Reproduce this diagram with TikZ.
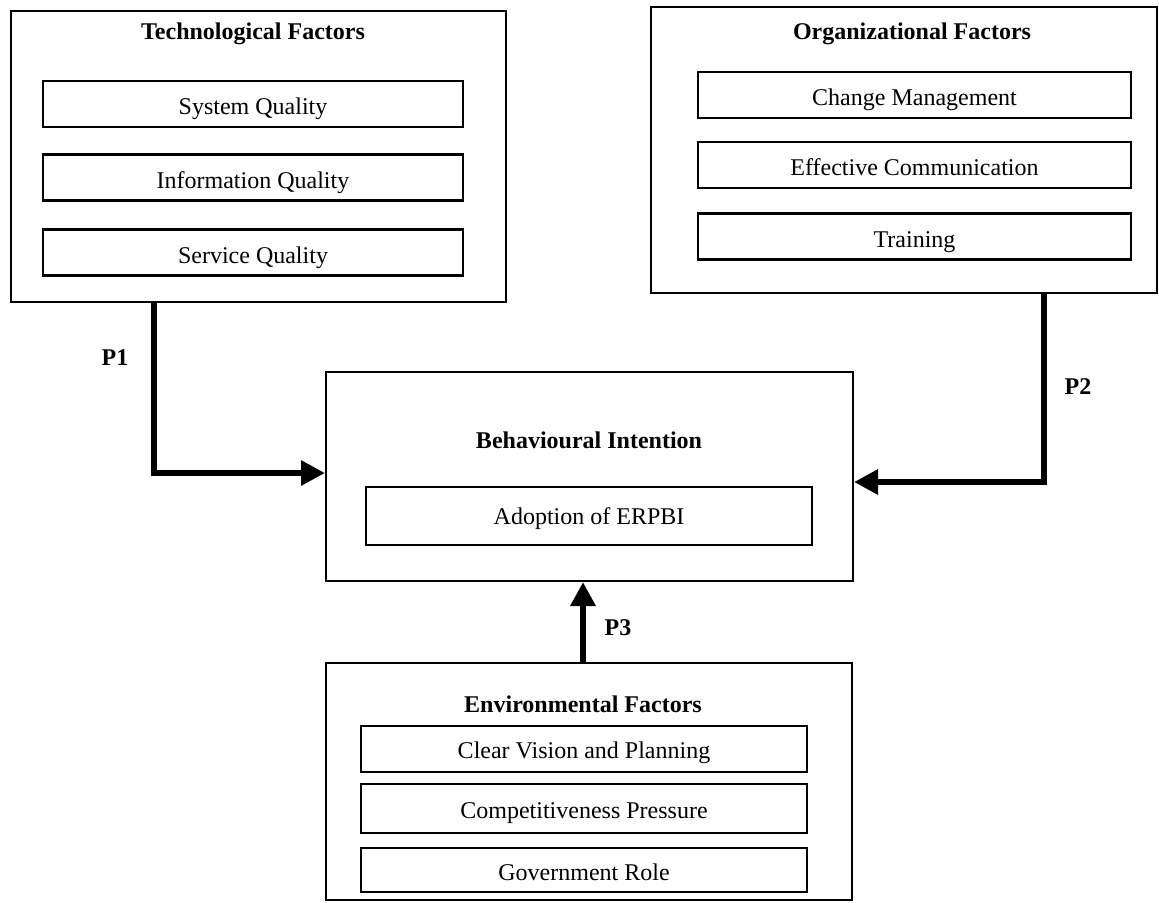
\documentclass[tikz,border=0pt]{standalone}
\usepackage{fontspec}
\setmainfont{Liberation Serif}
\usetikzlibrary{arrows.meta}
\tikzset{
  factor/.style={draw, line width=1pt, inner sep=0pt},
  item/.style={draw, line width=1.4pt, minimum height=23pt, inner sep=0pt, text height=10.5pt, text depth=0pt, font=\fontsize{12}{14}\selectfont},
  heading/.style={font=\fontsize{12}{14}\selectfont\bfseries},
  pathway/.style={line width=3.3pt, -{Triangle[length=12pt,width=12pt]}},
  plabel/.style={font=\fontsize{12}{14}\selectfont\bfseries}
}
\begin{document}
\begin{tikzpicture}[x=0.5pt,y=-0.5pt]
  \useasboundingbox (0,0) rectangle (1159,902);

  % Technological factors
  \node[factor, minimum width=247.5pt, minimum height=145.5pt] (tech) at (258.5,156.5) {};
  \node[heading] (techtitle) at (253,34) {Technological Factors};
  \node[item, minimum width=210pt] (sysq) at (253,104) {System Quality};
  \node[item, minimum width=210pt] (infoq) at (253,177.5) {Information Quality};
  \node[item, minimum width=210pt] (servq) at (253,252.5) {Service Quality};

  % Organizational factors
  \node[factor, minimum width=253pt, minimum height=143pt] (org) at (904,150) {};
  \node[heading] (orgtitle) at (912,34) {Organizational Factors};
  \node[item, minimum width=216.5pt] (change) at (914.5,95) {Change Management};
  \node[item, minimum width=216.5pt] (comm) at (914.5,165) {Effective Communication};
  \node[item, minimum width=216.5pt] (train) at (914.5,236.5) {Training};

  % Behavioural intention
  \node[factor, minimum width=263.5pt, minimum height=104.5pt] (behav) at (589.5,476.5) {};
  \node[heading] (behavtitle) at (589,440) {Behavioural Intention};
  \node[item, minimum width=223pt, minimum height=29pt, text height=8pt] (adopt) at (589,516) {Adoption of ERPBI};

  % Environmental factors
  \node[factor, minimum width=263pt, minimum height=118.5pt] (env) at (589,781.5) {};
  \node[heading] (envtitle) at (583,704) {Environmental Factors};
  \node[item, minimum width=223pt, text height=9.5pt] (vision) at (584,749) {Clear Vision and Planning};
  \node[item, minimum width=223pt, minimum height=24.5pt, text height=9.5pt] (compet) at (584,808.5) {Competitiveness Pressure};
  \node[item, minimum width=223pt, minimum height=22pt] (gov) at (584,870) {Government Role};

  % Propositions
  \coordinate (p1turn) at (154,473);
  \coordinate (p2turn) at (1044,482);
  \coordinate (p3line) at (583,620);
  \draw[pathway] (tech.south -| p1turn) |- (behav.west |- p1turn);
  \draw[pathway] (org.south -| p2turn) |- (behav.east |- p2turn);
  \draw[pathway] (env.north -| p3line) -- (behav.south -| p3line);
  \node[plabel] (p1) at (115,358) {P1};
  \node[plabel] (p2) at (1078,387) {P2};
  \node[plabel] (p3) at (618,628) {P3};
\end{tikzpicture}
\end{document}
